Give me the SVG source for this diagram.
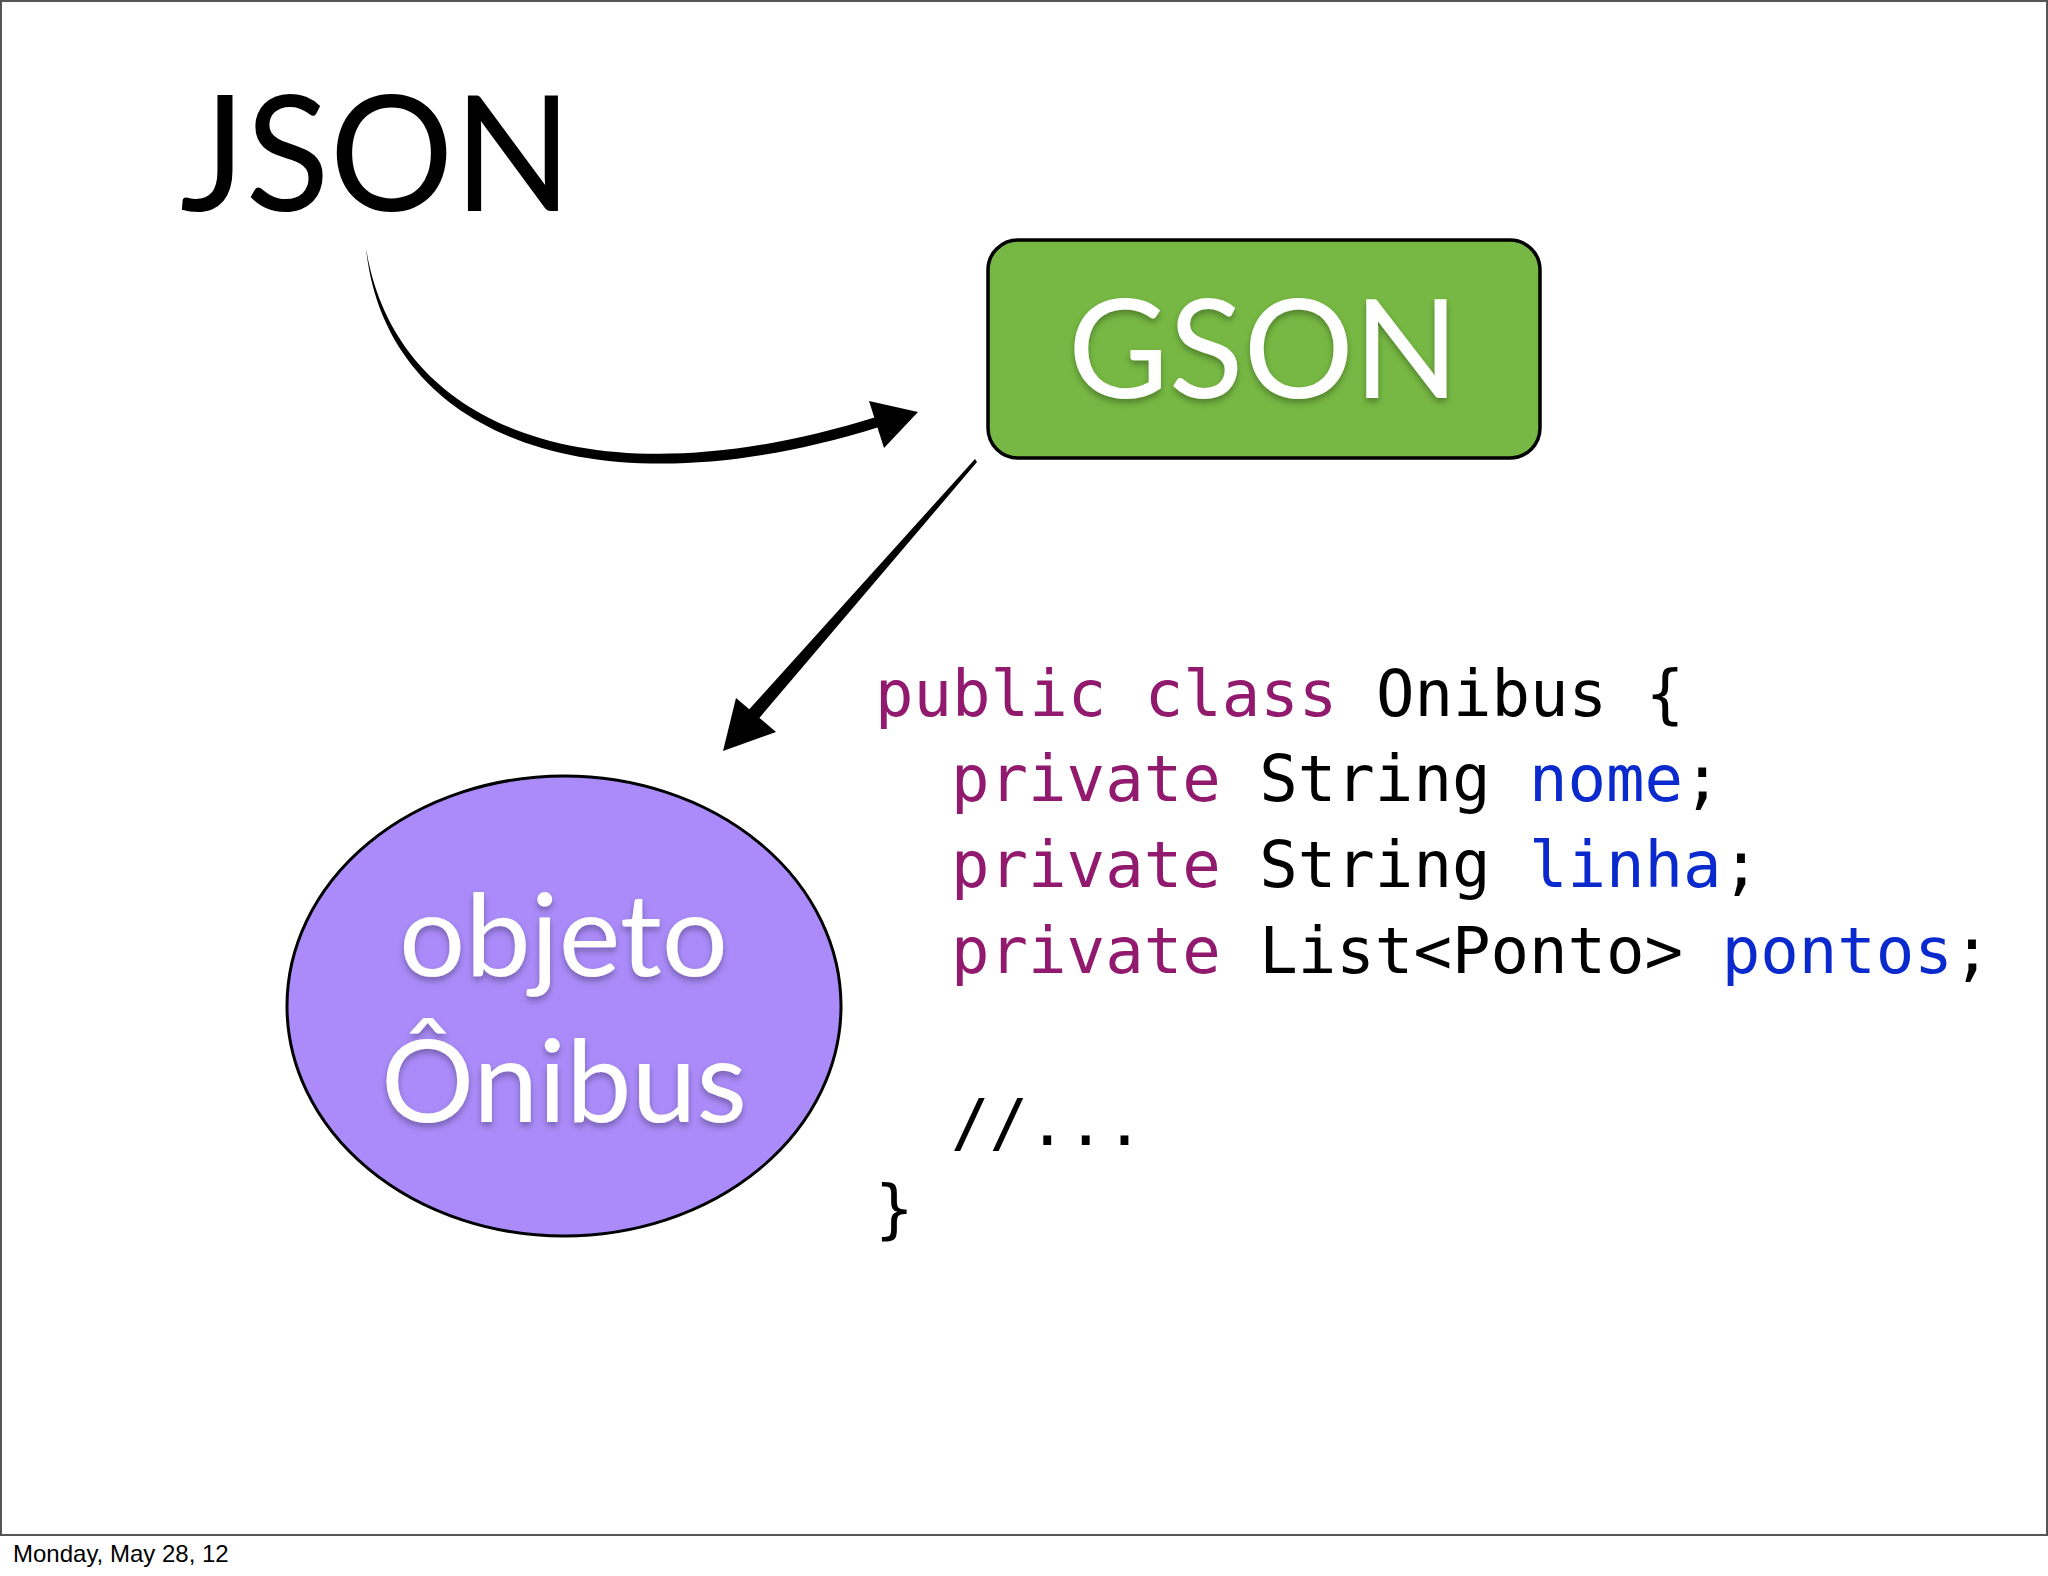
<svg xmlns="http://www.w3.org/2000/svg" width="2048" height="1576" viewBox="0 0 2048 1576">
  <defs>
    <filter id="shadow" x="-10%" y="-10%" width="120%" height="130%">
      <feDropShadow dx="0" dy="4" stdDeviation="3" flood-color="#000" flood-opacity="0.3"/>
    </filter>
    <style>
      .title { font-family: "Lato", "Open Sans", sans-serif; }
      .label { font-family: "Lato", "Open Sans", sans-serif; fill: #ffffff; }
      .code { font-family: "DejaVu Sans Mono", monospace; font-size: 64px; fill: #000; white-space: pre; }
      .kw { fill: #921A6E; }
      .id { fill: #0A2ACD; }
      .ink { fill: #000; }
    </style>
  </defs>
  <rect x="0" y="0" width="2048" height="1576" fill="#ffffff"/>
  <rect x="1" y="1" width="2046" height="1534" fill="#ffffff" stroke="#555555" stroke-width="2"/>

  <g id="json">
    <text class="title" x="180" y="211" font-size="162" textLength="392" lengthAdjust="spacingAndGlyphs" fill="#000">JSON</text>
  </g>

  <g id="gson">
    <rect x="988" y="240" width="552" height="218" rx="30" ry="30" fill="#76B843" stroke="#000" stroke-width="3.5"/>
    <text class="label" x="1068" y="398" font-size="138" textLength="391" lengthAdjust="spacingAndGlyphs" filter="url(#shadow)">GSON</text>
  </g>

  <g id="objeto">
    <ellipse cx="564" cy="1006" rx="277" ry="230" fill="#AA8BF9" stroke="#000" stroke-width="3"/>
    <text class="label" x="399" y="976" font-size="115" textLength="329" lengthAdjust="spacingAndGlyphs" filter="url(#shadow)">objeto</text>
    <text class="label" x="381" y="1122" font-size="115" textLength="366" lengthAdjust="spacingAndGlyphs" filter="url(#shadow)">Ônibus</text>
  </g>

  <g id="code">
    <text class="code" x="875" y="716"><tspan class="kw">public class</tspan> Onibus {</text>
    <text class="code" x="951" y="801"><tspan class="kw">private</tspan> String <tspan class="id">nome</tspan>;</text>
    <text class="code" x="951" y="887"><tspan class="kw">private</tspan> String <tspan class="id">linha</tspan>;</text>
    <text class="code" x="951" y="973"><tspan class="kw">private</tspan> List&lt;Ponto&gt; <tspan class="id">pontos</tspan>;</text>
    <text class="code" x="951" y="1145">//...</text>
    <text class="code" x="875" y="1231">}</text>
  </g>

  <g id="connectors">
    <path class="ink" d="M 366 248 C 395 430, 595 505, 876 417 L 879 427 C 592 517, 385 435, 366 248 Z"/>
    <polygon class="ink" points="918,412 869,401 884,448"/>
    <path class="ink" d="M 975 459 L 977 462 L 755 723 L 745 714 Z"/>
    <polygon class="ink" points="723,751 736,698 776,732"/>
  </g>

  <text x="13" y="1562" font-family="Liberation Sans, Arial, sans-serif" font-size="24" fill="#000">Monday, May 28, 12</text>
</svg>
